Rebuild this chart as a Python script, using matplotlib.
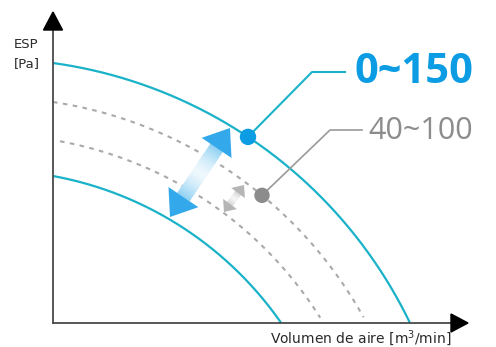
import numpy as np
import matplotlib
matplotlib.use("Agg")
import matplotlib.pyplot as plt
from matplotlib.patches import Polygon, Circle
from matplotlib.colors import to_rgb

# ---- schematic data (plot units, origin at axes corner) ----
curve_names = ["max_outer", "std_outer", "std_inner", "max_inner"]
esp_at_zero_flow = [260, 221, 183, 147]      # y-intercepts
curve_styles = ["solid", "dashed", "dashed", "solid"]
curve_start_flow = [0, 0, 7, 0]
arc_center = (-64, -203)                     # common centre of fan arcs

blue_point_flow = 195        # operating point on outer cyan curve
gray_point_flow = 209        # operating point on outer dashed curve

label_main = "0~150"
label_std = "40~100"
x_label = "Volumen de aire [m$^3$/min]"
y_label = ["ESP", "[Pa]"]

blue_arrow = [(117, 106), (177, 195)]
gray_arrow = [(171, 111), (191, 138)]

CYAN = "#19b2c8"
BLUE = "#0c9ce3"
GRAY_DASH = "#a9a9a9"
GRAY = "#8c8c8c"

fig = plt.figure(figsize=(4.96, 3.47), dpi=100)
ax = fig.add_axes([0, 0, 1, 1])
ax.set_xlim(-53, 443)
ax.set_ylim(-24, 323)
ax.axis("off")

cx, cy = arc_center


def curve_y(r, x):
    return np.sqrt(np.maximum(r ** 2 - (x - cx) ** 2, 0)) + cy


for esp, style, x0 in zip(esp_at_zero_flow, curve_styles, curve_start_flow):
    r = np.hypot(0 - cx, esp - cy)
    x_end = np.sqrt(r ** 2 - cy ** 2) + cx
    xs = np.linspace(x0, x_end, 400)
    ys = curve_y(r, xs)
    if style == "solid":
        ax.plot(xs, ys, color=CYAN, lw=1.6, solid_capstyle="butt", zorder=3)
    else:
        m = ys > 5
        ax.plot(xs[m], ys[m], color=GRAY_DASH, lw=1.5, dashes=(2.2, 2.6), zorder=2)

# ---- axes with arrows ----
ax.plot([0, 0], [0, 294], color="#4a4a4a", lw=1.3, zorder=4)
ax.plot([0, 400], [0, 0], color="#4a4a4a", lw=1.3, zorder=4)
ax.add_patch(Polygon([(-9.5, 293), (9.5, 293), (0, 311)], closed=True,
                     color="black", zorder=5))
ax.add_patch(Polygon([(398, -9), (398, 9), (415, 0)], closed=True,
                     color="black", zorder=5))

ax.text(-27, 279, y_label[0], fontsize=9.5, ha="center", va="center",
        color="#2a2a2a", family=["Liberation Sans Narrow", "DejaVu Sans"])
ax.text(-26, 259, y_label[1], fontsize=9.5, ha="center", va="center",
        color="#2a2a2a", family=["Liberation Sans Narrow", "DejaVu Sans"])
ax.text(308, -15, x_label, fontsize=10, ha="center", va="center",
        color="#2a2a2a", family=["Liberation Sans Narrow", "DejaVu Sans"])


# ---- gradient double arrows ----
def grad_double_arrow(p0, p1, shaft_w, head_l, head_w, c_end, c_mid, head_c, z):
    p0 = np.array(p0, float)
    p1 = np.array(p1, float)
    d = p1 - p0
    L = np.hypot(*d)
    u = d / L
    n = np.array([-u[1], u[0]])
    a = p0 + u * head_l
    b = p1 - u * head_l
    ce = np.array(to_rgb(c_end))
    cm = np.array(to_rgb(c_mid))
    N = 30
    for i in range(N):
        t0, t1 = i / N, (i + 1) / N
        q0 = a + (b - a) * t0
        q1 = a + (b - a) * (t1 + 0.01)
        tm = (t0 + t1) / 2
        f = abs(tm - 0.5) * 2
        col = cm + (ce - cm) * f ** 1.5
        ax.add_patch(Polygon([q0 + n * shaft_w / 2, q1 + n * shaft_w / 2,
                              q1 - n * shaft_w / 2, q0 - n * shaft_w / 2],
                             closed=True, color=col, lw=0, zorder=z))
    for tip, base in ((p1, b), (p0, a)):
        ax.add_patch(Polygon([tip, base + n * head_w / 2, base - n * head_w / 2],
                             closed=True, color=head_c, lw=0, zorder=z))


grad_double_arrow(blue_arrow[0], blue_arrow[1], 15, 24, 36,
                  "#8fd0f3", "#eef8fd", "#33a9ec", 6)
grad_double_arrow(gray_arrow[0], gray_arrow[1], 7, 10, 17,
                  "#cfcfcf", "#f4f4f4", "#b5b5b5", 6)

# ---- operating points & leaders ----
r_outer = np.hypot(cx, esp_at_zero_flow[0] - cy)
r_std = np.hypot(cx, esp_at_zero_flow[1] - cy)
bp = (blue_point_flow, float(curve_y(r_outer, blue_point_flow)))
gp = (gray_point_flow, float(curve_y(r_std, gray_point_flow)))

ax.plot([bp[0], 259, 292], [bp[1], 251, 251], color=CYAN, lw=1.5, zorder=6)
ax.plot([gp[0], 277, 309], [gp[1], 193, 193], color="#9a9a9a", lw=1.2, zorder=6)
ax.add_patch(Circle(bp, 7.5, color=BLUE, zorder=7))
ax.add_patch(Circle(gp, 7, color=GRAY, zorder=7))

ax.text(302, 251, label_main, fontsize=30, fontweight="bold", color=BLUE,
        ha="left", va="center", family=["Open Sans", "DejaVu Sans"])
ax.text(315, 192, label_std, fontsize=22, color=GRAY,
        ha="left", va="center", family=["Open Sans", "DejaVu Sans"])

fig.savefig("out.png", dpi=100)
